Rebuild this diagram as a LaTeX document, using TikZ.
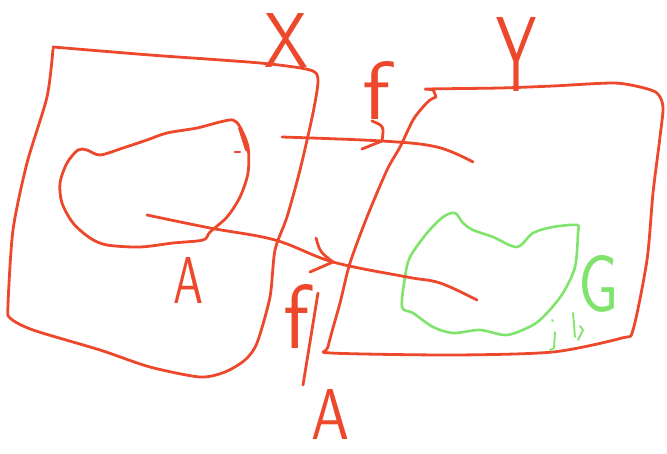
\documentclass[tikz,border=0pt]{standalone}
\usepackage{graphicx}
\definecolor{pen}{RGB}{237,72,44}
\definecolor{gpen}{RGB}{128,228,108}
\begin{document}
\begin{tikzpicture}[x=1pt,y=-1pt,
  stroke/.style={draw=pen,line width=2.8pt,line cap=round,line join=round},
  gstroke/.style={draw=gpen,line width=2.6pt,line cap=round,line join=round},
  lbl/.style={text=pen,inner sep=0pt,font=\sffamily},
  glbl/.style={text=gpen,inner sep=0pt,font=\sffamily}]
\useasboundingbox (0,0) rectangle (667,454);
% set X
\draw[stroke] plot[smooth,tension=0.45] coordinates {(53,47) (150,55) (260,63) (310,70) (318,80) (313,113) (300,170) (287,217) (275,250) (270,297) (257,343) (245,360) (225,372) (200,377) (150,367) (100,350) (33,330) (10,318) (8,305) (13,230) (27,163) (47,97) (53,49)};
% set Y
\draw[stroke] plot[smooth,tension=0.45] coordinates {(436,97) (433,90) (428,89) (500,88) (553,86) (613,83) (640,87) (657,93) (663,107) (660,137) (653,193) (647,260) (633,330) (622,338) (553,352) (453,355) (331,353) (328,347) (340,303) (350,263) (367,217) (387,170) (400,147) (413,120) (423,107) (430,100) (436,97)};
% subset A
\draw[stroke] plot[smooth cycle,tension=0.5] coordinates {(78,150) (87,150) (100,155) (123,148) (147,140) (167,133) (197,128) (220,122) (233,120) (240,127) (248,147) (248,173) (240,197) (227,217) (210,232) (203,240) (173,243) (140,247) (107,245) (90,238) (73,223) (62,203) (60,183) (67,163)};
\draw[stroke,line width=3.8pt] (240,128) -- (247,150);
\draw[stroke] (235,152) -- (240,152);
% subset G
\draw[gstroke] plot[smooth cycle,tension=0.5] coordinates {(455,213) (463,223) (473,230) (493,237) (517,247) (533,233) (553,227) (577,225) (578,233) (575,267) (563,293) (547,313) (533,325) (507,335) (480,330) (453,333) (433,327) (413,313) (402,307) (405,277) (410,257) (427,233) (443,217)};
% arrow f
\coordinate (f0) at (282,137);
\coordinate (fh) at (382,141);
\coordinate (f1) at (473,162);
\draw[stroke] plot[smooth,tension=0.6] coordinates {(f0) (fh) (437,147) (f1)};
\draw[stroke] (372,121) .. controls (384,126) .. (fh);
\draw[stroke] (362,149) -- (fh);
% arrow f|A
\coordinate (g0) at (147,215);
\coordinate (gh) at (333,262);
\coordinate (g1) at (477,300);
\draw[stroke] plot[smooth,tension=0.6] coordinates {(g0) (210,228) (275,240) (gh) (407,277) (440,283) (g1)};
\draw[stroke] (316,238) .. controls (320,252) .. (gh);
\draw[stroke] (310,272) -- (gh);
% labels
\node[lbl] (labX) at (287,40) {\resizebox{44pt}{54pt}{X}};
\node[lbl] (labY) at (517,54) {\resizebox{40pt}{74pt}{Y}};
\node[lbl] (labf) at (377,90) {\resizebox{28pt}{58pt}{f}};
\node[lbl] (labA) at (188,280) {\resizebox{30pt}{46pt}{A}};
\node[lbl] (labfr) at (297,316) {\resizebox{26pt}{64pt}{f}};
\draw[stroke] (318,293) -- (303,385);
\node[lbl] (labAr) at (331,414) {\resizebox{38pt}{50pt}{A}};
\node[glbl] (labG) at (599,284) {\resizebox{40pt}{56pt}{G}};
% small green marks
\draw[gstroke,line width=1.8pt] (552,320) -- (553,321);
\draw[gstroke,line width=1.8pt] (555,332) -- (554,348) -- (550,350);
\draw[gstroke,line width=1.8pt] (573,313) -- (575,337);
\draw[gstroke,line width=1.8pt] (580,326) -- (583,330) -- (578,340);
\end{tikzpicture}
\end{document}
